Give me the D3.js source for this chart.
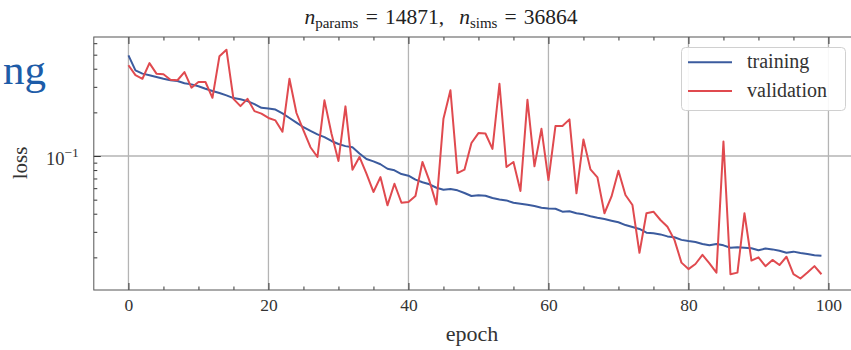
<!DOCTYPE html>
<html><head><meta charset="utf-8">
<script src="https://cdn.jsdelivr.net/npm/d3@7"></script>
<style>
html,body{margin:0;padding:0;background:#fff;overflow:hidden;}
svg{display:block;font-family:"Liberation Serif","DejaVu Serif",serif;}
</style></head>
<body><svg id="c" width="851" height="350"></svg>
<script>
const epochs = d3.range(0, 100);
const training = [0.494,0.390,0.370,0.361,0.351,0.341,0.333,0.329,0.318,0.312,
0.303,0.291,0.281,0.272,0.262,0.251,0.246,0.239,0.228,0.215,
0.213,0.209,0.197,0.183,0.170,0.158,0.149,0.141,0.135,0.127,
0.121,0.117,0.115,0.104,0.0953,0.0919,0.0877,0.0817,0.0797,0.0751,
0.0732,0.0687,0.0659,0.0638,0.0604,0.0586,0.0592,0.0580,0.0556,0.0530,
0.0536,0.0532,0.0513,0.0502,0.0494,0.0476,0.0469,0.0461,0.0452,0.0440,
0.0435,0.0433,0.0413,0.0416,0.0403,0.0396,0.0384,0.0375,0.0368,0.0358,
0.0349,0.0334,0.0324,0.0314,0.0296,0.0293,0.0288,0.0279,0.0275,0.0264,
0.0259,0.0255,0.0247,0.0242,0.0247,0.0242,0.0233,0.0235,0.0233,0.0231,
0.0224,0.0230,0.0227,0.0222,0.0215,0.0219,0.0214,0.0211,0.0207,0.0205];
const validation = [0.423,0.361,0.341,0.437,0.370,0.366,0.336,0.333,0.379,0.296,
0.324,0.324,0.252,0.488,0.541,0.248,0.221,0.248,0.204,0.196,
0.183,0.176,0.147,0.341,0.198,0.150,0.115,0.0985,0.242,0.143,
0.0924,0.220,0.0805,0.0985,0.0755,0.0565,0.0716,0.0457,0.0644,0.0476,
0.0482,0.0530,0.0910,0.0673,0.0464,0.181,0.284,0.0763,0.0805,0.123,
0.144,0.143,0.112,0.315,0.0840,0.0910,0.0574,0.244,0.0849,0.154,
0.0683,0.161,0.161,0.179,0.0553,0.130,0.0809,0.0713,0.0403,0.0524,
0.0792,0.0538,0.0459,0.0215,0.0403,0.0413,0.0362,0.0325,0.0264,0.0184,
0.0166,0.0180,0.0208,0.0182,0.0157,0.126,0.0153,0.0157,0.0403,0.0190,
0.0200,0.0174,0.0192,0.0177,0.0202,0.0153,0.0143,0.0157,0.0174,0.0153];
const xMajor = [0, 20, 40, 60, 80, 100];
const xMinor = [5,10,15,25,30,35,45,50,55,65,70,75,85,90,95];
const yMajor = [0.1];
const yMinor = [0.02,0.03,0.04,0.05,0.06,0.07,0.08,0.09,0.2,0.3,0.4,0.5,0.6];
const seriesNames = ["training", "validation"];
const colors = ["#3b5b9e", "#e04a4f"];

const svg = d3.select("#c");
const L = 93.8, R = 856.1, T = 37, B = 290;
const x = d3.scaleLinear().domain([-4.95, 103.95]).range([L, R]);
const y = d3.scaleLog().domain([0.01191, 0.662]).range([B, T]);

// cropped heading fragment
svg.append("text").attr("x", 46).attr("y", 84).attr("text-anchor", "end")
  .attr("font-size", 43).attr("fill", "#1d5ca8").text("ng");

// grid
const grid = svg.append("g").attr("stroke", "#b4b4b4").attr("stroke-width", 1.3);
grid.selectAll("line.v").data(xMajor).join("line").attr("class","v")
  .attr("x1", d => x(d)).attr("x2", d => x(d)).attr("y1", T).attr("y2", B);
grid.selectAll("line.h").data(yMajor).join("line").attr("class","h")
  .attr("y1", d => y(d)).attr("y2", d => y(d)).attr("x1", L).attr("x2", R);

// lines
const line = d3.line().x((d, i) => x(epochs[i])).y(d => y(d));
[training, validation].forEach((s, k) => {
  svg.append("path").datum(s).attr("d", line).attr("fill", "none")
    .attr("stroke", colors[k]).attr("stroke-width", 2).attr("stroke-linejoin", "round");
});

// axes
function style(g) {
  g.select(".domain").remove();
  g.selectAll(".tick line").attr("stroke", "#333").attr("stroke-width", 1);
  g.selectAll("text").attr("fill", "#333").attr("font-family", '"Liberation Serif",serif');
}
svg.append("g").attr("transform", `translate(0,${B})`)
  .call(d3.axisBottom(x).tickValues(xMajor).tickSize(-7).tickPadding(9).tickFormat(d3.format("d")))
  .call(style).selectAll("text").attr("font-size", 17.5);
svg.append("g").attr("transform", `translate(0,${B})`)
  .call(d3.axisBottom(x).tickValues(xMinor).tickSize(-3.5).tickFormat("")).call(style);
svg.append("g").attr("transform", `translate(0,${T})`)
  .call(d3.axisTop(x).tickValues(xMajor).tickSize(-7).tickFormat("")).call(style);
svg.append("g").attr("transform", `translate(0,${T})`)
  .call(d3.axisTop(x).tickValues(xMinor).tickSize(-3.5).tickFormat("")).call(style);
const ya = svg.append("g").attr("transform", `translate(${L},0)`)
  .call(d3.axisLeft(y).tickValues(yMajor).tickSize(-7).tickPadding(15).tickFormat(() => "10"))
  .call(style);
ya.selectAll("text").attr("font-size", 18.5).attr("dy", "0.45em")
  .append("tspan").attr("dy", "-0.55em").attr("font-size", 13.5).text("\u22121");
svg.append("g").attr("transform", `translate(${L},0)`)
  .call(d3.axisLeft(y).tickValues(yMinor).tickSize(-3.5).tickFormat("")).call(style);

// frame
svg.append("rect").attr("x", L).attr("y", T).attr("width", R - L).attr("height", B - T)
  .attr("fill", "none").attr("stroke", "#555").attr("stroke-width", 1);

// labels
svg.append("text").attr("x", 472).attr("y", 341).attr("text-anchor", "middle")
  .attr("font-size", 22).attr("fill", "#333").text("epoch");
svg.append("text").attr("transform", "translate(27,163) rotate(-90)").attr("text-anchor", "middle")
  .attr("font-size", 21).attr("fill", "#333").text("loss");

// title
const title = svg.append("text").attr("x", 441).attr("y", 24).attr("text-anchor", "middle")
  .attr("font-size", 21.5).attr("fill", "#222");
title.append("tspan").attr("font-style", "italic").text("n");
title.append("tspan").attr("font-size", 15).attr("dy", 4).text("params");
title.append("tspan").attr("dy", -4).text("\u2004=\u200414871,\u2002\u2009");
title.append("tspan").attr("font-style", "italic").text("n");
title.append("tspan").attr("font-size", 15).attr("dy", 4).text("sims");
title.append("tspan").attr("dy", -4).text("\u2004=\u200436864");

// legend
const lg = svg.append("g");
lg.append("rect").attr("x", 681.5).attr("y", 47.5).attr("width", 164).attr("height", 63)
  .attr("rx", 4).attr("fill", "#fff").attr("fill-opacity", 0.9)
  .attr("stroke", "#d0d0d0").attr("stroke-width", 1);
seriesNames.forEach((n, i) => {
  const yy = 62.3 + i * 28.7;
  lg.append("line").attr("x1", 688).attr("x2", 732).attr("y1", yy).attr("y2", yy)
    .attr("stroke", colors[i]).attr("stroke-width", 2);
  lg.append("text").attr("x", 747).attr("y", yy + 5.5).attr("font-size", 20)
    .attr("fill", "#333").text(n);
});
</script></body></html>
